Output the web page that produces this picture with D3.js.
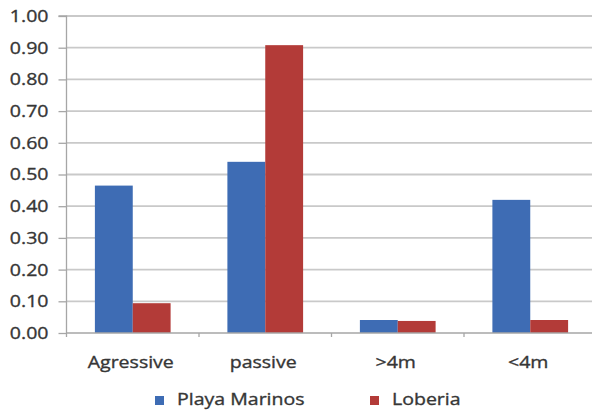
<!DOCTYPE html>
<html><head><meta charset="utf-8">
<script src="https://cdn.jsdelivr.net/npm/d3@7"></script>
<style>
html,body{margin:0;padding:0;background:#fff;}
svg{display:block;}
text{font-family:"Open Sans",sans-serif;fill:#363636;stroke:#363636;stroke-width:0.35px;}
</style></head>
<body>
<svg id="chart" width="592" height="411"></svg>
<script>
const categories = ["Agressive", "passive", ">4m", "<4m"];
const seriesNames = ["Playa Marinos", "Loberia"];
const playaMarinos = [0.465, 0.54, 0.041, 0.42];
const loberia = [0.094, 0.908, 0.038, 0.041];
const yTicks = [0, 0.1, 0.2, 0.3, 0.4, 0.5, 0.6, 0.7, 0.8, 0.9, 1.0];
const colors = ["#3E6CB4", "#B33B38"];

const svg = d3.select("#chart");
const pLeft = 66.5, pRight = 596.5, pTop = 16, pBottom = 333;
const sx = 1.15;

const x = d3.scaleBand().domain(categories).range([pLeft, pRight]).paddingInner(0).paddingOuter(0);
const bw = x.bandwidth() / 3.5;
const x1 = d3.scaleBand().domain(seriesNames).range([0, bw * 2]);
const y = d3.scaleLinear().domain([0, 1]).range([pBottom, pTop]);

// gridlines
svg.append("g").selectAll("line").data(yTicks.slice(1)).join("line")
  .attr("x1", pLeft).attr("x2", 592).attr("y1", d => y(d)).attr("y2", d => y(d))
  .attr("stroke", "#c9c9c9").attr("stroke-width", 1.8);

// bars
const data = [playaMarinos, loberia];
const g = svg.append("g");
categories.forEach((c, i) => {
  seriesNames.forEach((s, j) => {
    g.append("rect")
      .attr("x", x(c) + (x.bandwidth() - 2 * bw) / 2 + x1(s))
      .attr("width", x1.bandwidth())
      .attr("y", y(data[j][i]))
      .attr("height", y(0) - y(data[j][i]))
      .attr("fill", colors[j]);
  });
});

// y axis
const yAxis = d3.axisLeft(y).tickValues(yTicks).tickSize(8).tickPadding(10).tickFormat(d3.format(".2f"));
const ya = svg.append("g").attr("transform", `translate(${pLeft},0)`).call(yAxis);
ya.select(".domain").attr("stroke", "#a6a6a6").attr("stroke-width", 1.3).attr("d", `M-8,${pTop}H0V${pBottom + 4}`);
ya.selectAll(".tick line").attr("stroke", "#a6a6a6").attr("stroke-width", 1.3);
ya.selectAll(".tick text").style("font-size", "17px").attr("fill", null)
  .attr("transform", `translate(-18,0) scale(${sx},1) translate(18,0)`);

// x axis
const xa = svg.append("g").attr("transform", `translate(0,${pBottom})`);
xa.append("line").attr("x1", pLeft).attr("x2", 592).attr("stroke", "#a6a6a6").attr("stroke-width", 1.3);
xa.selectAll("line.tk").data(categories.slice(1)).join("line").attr("class", "tk")
  .attr("x1", d => x(d)).attr("x2", d => x(d)).attr("y1", 0).attr("y2", 4)
  .attr("stroke", "#a6a6a6").attr("stroke-width", 1.3);
xa.selectAll("text").data(categories).join("text")
  .attr("transform", d => `translate(${x(d) + x.bandwidth() / 2 - 2},35) scale(${sx},1)`)
  .attr("text-anchor", "middle").style("font-size", "17px").text(d => d);

// legend
const legendX = [155, 370];
const lg = svg.append("g");
seriesNames.forEach((s, j) => {
  lg.append("rect").attr("x", legendX[j]).attr("y", 396).attr("width", 9).attr("height", 9).attr("fill", colors[j]);
  lg.append("text").attr("transform", `translate(${legendX[j] + 22},405) scale(${sx},1)`)
    .style("font-size", "17px").text(s);
});
</script>
</body></html>
